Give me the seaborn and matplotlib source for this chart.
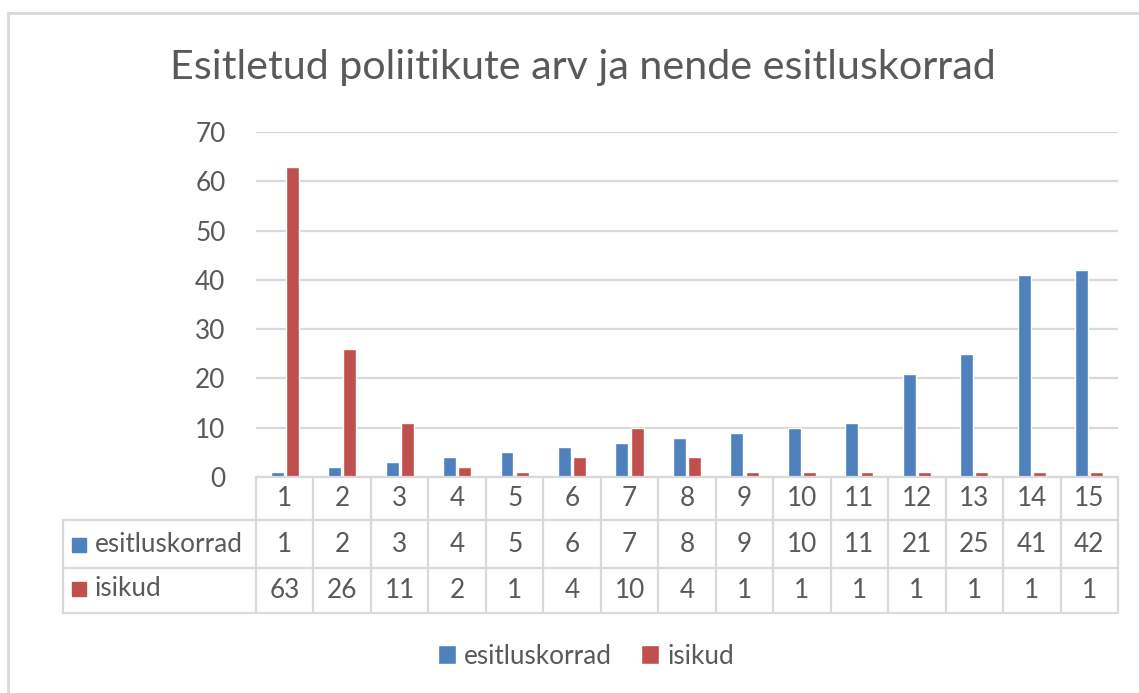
import pandas as pd
import seaborn as sns
import matplotlib.pyplot as plt
from matplotlib.lines import Line2D
from matplotlib.patches import Rectangle
from matplotlib.transforms import blended_transform_factory

kategooriad = [str(i) for i in range(1, 16)]
esitluskorrad = [1, 2, 3, 4, 5, 6, 7, 8, 9, 10, 11, 21, 25, 41, 42]
isikud = [63, 26, 11, 2, 1, 4, 10, 4, 1, 1, 1, 1, 1, 1, 1]
seeriad = ['esitluskorrad', 'isikud']
varvid = ['#4f81bd', '#c0504d']
pealkiri = 'Esitletud poliitikute arv ja nende esitluskorrad'

df = pd.DataFrame({'kat': kategooriad * 2,
                   'vaartus': esitluskorrad + isikud,
                   'seeria': [seeriad[0]] * 15 + [seeriad[1]] * 15})

sns.set_theme(style='white')
plt.rcParams['font.family'] = ['Lato', 'DejaVu Sans']
tekst = '#595959'
joon = '#d9d9d9'
fs = 18.8

W, H = 1139, 693
fig = plt.figure(figsize=(W / 100, H / 100), dpi=100)

def fx(px):
    return px / W

def fy(py):
    return (H - py) / H

ax = fig.add_axes([fx(256), fy(477), fx(1118) - fx(256), fy(132) - fy(477)])
sns.barplot(data=df, x='kat', y='vaartus', hue='seeria', order=kategooriad,
            palette=varvid, saturation=1, width=0.53, gap=0.15, ax=ax, legend=True)

ax.set_xlim(-0.5, len(kategooriad) - 0.5)
ax.set_ylim(0, 70)
ax.set_yticks(range(0, 71, 10))
ax.yaxis.grid(True, color=joon, lw=1.6)
ax.set_axisbelow(True)
ax.tick_params(axis='y', length=0, pad=22, labelsize=fs, labelcolor=tekst)
ax.set_xticks([])
ax.set_xlabel('')
ax.set_ylabel('')
for s in ax.spines.values():
    s.set_visible(False)

handles, labels = ax.get_legend_handles_labels()
ax.get_legend().remove()

# data table under the plot
tr = blended_transform_factory(ax.transData, fig.transFigure)
rows_y = [477, 520, 568, 613]
x0 = -0.5
x1 = len(kategooriad) - 0.5
kw = dict(color=joon, lw=1.6, clip_on=False)
fig.add_artist(Line2D([x0, x1], [fy(477)] * 2, transform=tr, **kw))
for py in rows_y[1:]:
    fig.add_artist(Line2D([fx(63), fx(256)], [fy(py)] * 2, transform=fig.transFigure, **kw))
    fig.add_artist(Line2D([x0, x1], [fy(py)] * 2, transform=tr, **kw))
for i in range(len(kategooriad) + 1):
    fig.add_artist(Line2D([i - 0.5] * 2, [fy(477), fy(613)], transform=tr, **kw))
fig.add_artist(Line2D([fx(63)] * 2, [fy(520), fy(613)], transform=fig.transFigure, **kw))

for i, k in enumerate(kategooriad):
    fig.text(i, fy(499), k, transform=tr, ha='center', va='center', fontsize=fs, color=tekst)
    fig.text(i, fy(545), str(esitluskorrad[i]), transform=tr, ha='center', va='center',
             fontsize=fs, color=tekst)
    fig.text(i, fy(591), str(isikud[i]), transform=tr, ha='center', va='center',
             fontsize=fs, color=tekst)

for nimi, v, py in zip(seeriad, varvid, [545, 589]):
    fig.add_artist(Rectangle((fx(72), fy(py + 7)), fx(14), fy(0) - fy(14), color=v,
                             transform=fig.transFigure))
    fig.text(fx(95), fy(py), nimi, ha='left', va='center', fontsize=fs, color=tekst)

fig.legend(handles, labels, loc='center', bbox_to_anchor=(fx(586), fy(656)), ncol=2,
           frameon=False, fontsize=fs, labelcolor=tekst, handlelength=0.7,
           handleheight=0.7, handletextpad=0.3, columnspacing=1.1)

fig.text(fx(583), fy(68), pealkiri, ha='center', va='center', fontsize=29.7, color=tekst)

# outer chart frame
fig.add_artist(Line2D([fx(8), 1], [fy(13)] * 2, transform=fig.transFigure, color=joon, lw=2))
fig.add_artist(Line2D([fx(8)] * 2, [fy(13), 0], transform=fig.transFigure, color=joon, lw=2))

fig.savefig('out.png', dpi=100, facecolor='white')
